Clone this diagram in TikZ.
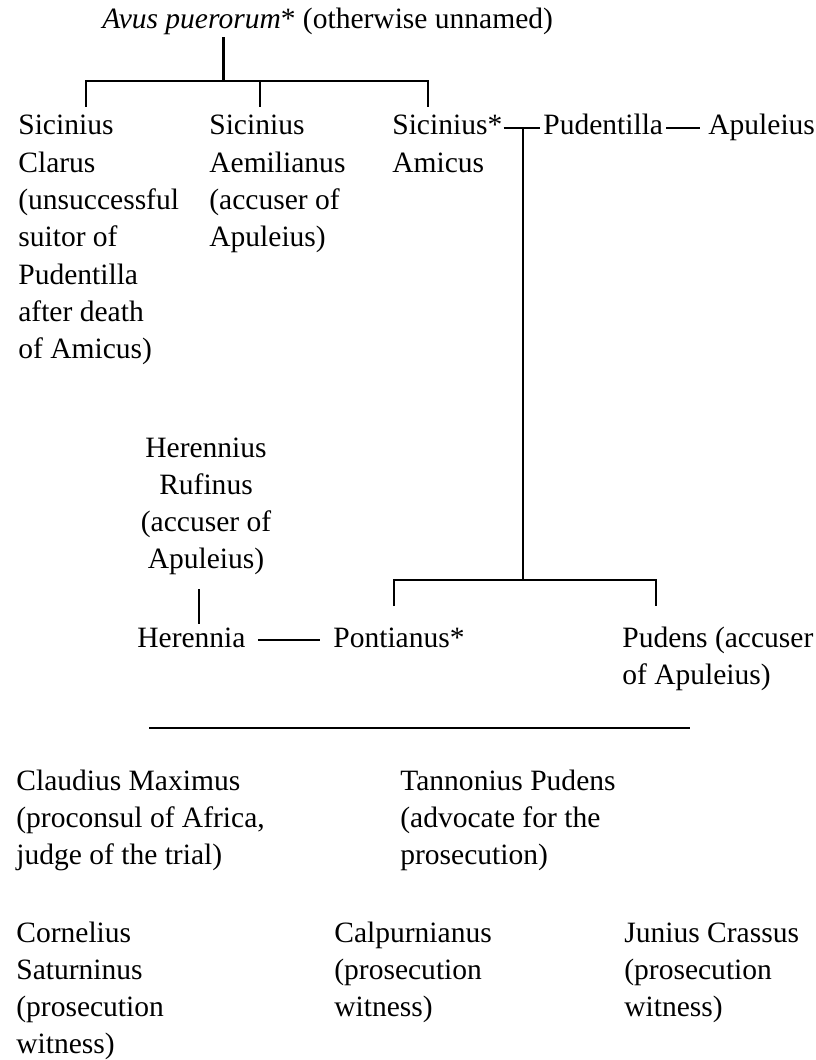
\documentclass[tikz,border=0pt]{standalone}
\usepackage{fontspec}
\setmainfont{Liberation Serif}
\newcommand{\blk}[1]{\begin{tabular}[t]{@{}l@{}}#1\end{tabular}}
\newcommand{\blkc}[1]{\begin{tabular}[t]{@{}c@{}}#1\end{tabular}}
\tikzset{%
    pri/.style={line width = 1.2pt},
    txt/.style={font=\fontsize{16.8pt}{21.2pt}\selectfont, inner sep=0pt, anchor=base west},
    txc/.style={txt, anchor=base},
}
\begin{document}
\begin{tikzpicture}
    \useasboundingbox (0,0) rectangle (16.3,-21.2);
    \node (avus) at(2.04,-0.58)[txt]{\textit{Avus puerorum}* (otherwise unnamed)};
    \node (clarus) at(0.36,-2.70)[txt]{\blk{Sicinius\\Clarus\\(unsuccessful\\suitor of\\Pudentilla\\after death\\of Amicus)}};
    \node (aemil) at(4.18,-2.70)[txt]{\blk{Sicinius\\Aemilianus\\(accuser of\\Apuleius)}};
    \node (amicus) at(7.84,-2.70)[txt]{\blk{Sicinius*\\Amicus}};
    \node (pudentilla) at(10.86,-2.70)[txt]{Pudentilla};
    \node (apuleius) at(14.16,-2.70)[txt]{Apuleius};
    \node (rufinus) at(4.12,-9.14)[txc]{\blkc{Herennius\\Rufinus\\(accuser of\\Apuleius)}};
    \node (herennia) at(2.74,-12.94)[txt]{Herennia};
    \node (pontianus) at(6.66,-12.94)[txt]{Pontianus*};
    \node (pudens) at(12.44,-12.94)[txt]{\blk{Pudens (accuser\\of Apuleius)}};
    \node (maximus) at(0.32,-15.80)[txt]{\blk{Claudius Maximus\\(proconsul of Africa,\\judge of the trial)}};
    \node (tannonius) at(8.00,-15.80)[txt]{\blk{Tannonius Pudens\\(advocate for the\\prosecution)}};
    \node (saturninus) at(0.32,-18.84)[txt]{\blk{Cornelius\\Saturninus\\(prosecution\\witness)}};
    \node (calpurnianus) at(6.68,-18.84)[txt]{\blk{Calpurnianus\\(prosecution\\witness)}};
    \node (crassus) at(12.48,-18.84)[txt]{\blk{Junius Crassus\\(prosecution\\witness)}};
    \coordinate (avusfoot) at (4.47,-1.62);
    \coordinate (d1) at (1.72,-2.14);
    \coordinate (d2) at (5.20,-2.14);
    \coordinate (d3) at (8.56,-2.14);
    \coordinate (kbar) at (10.36,-11.60);
    \coordinate (pk1) at (7.88,-12.12);
    \coordinate (pk2) at (13.12,-12.12);
    \coordinate (hx) at (3.98,0);
    \draw [pri,shorten <=0.03cm](avus.south -| avusfoot) -- (avusfoot);
    \draw [pri](d1) |- (avusfoot) -| (d3);
    \draw [pri](d2) -- (d2 |- avusfoot);
    \draw [pri,shorten <=0.02cm,shorten >=0.06cm]([yshift=0.14cm]amicus.base east) -- ([yshift=0.14cm]pudentilla.base west) coordinate[midway](marr);
    \draw [pri,shorten <=0.06cm,shorten >=0.16cm]([yshift=0.14cm]pudentilla.base east) -- ([yshift=0.14cm]apuleius.base west);
    \draw [pri](marr) -- (marr |- kbar);
    \draw [pri](pk1) |- (kbar) -| (pk2);
    \draw [pri,shorten <=0.18cm,shorten >=0.06cm](rufinus.south -| hx) -- (herennia.north -| hx);
    \draw [pri,shorten <=0.24cm,shorten >=0.26cm]([yshift=0.14cm]herennia.base east) -- ([yshift=0.14cm]pontianus.base west);
    \draw [pri](2.98,-14.56) -- (13.80,-14.56);
\end{tikzpicture}
\end{document}
